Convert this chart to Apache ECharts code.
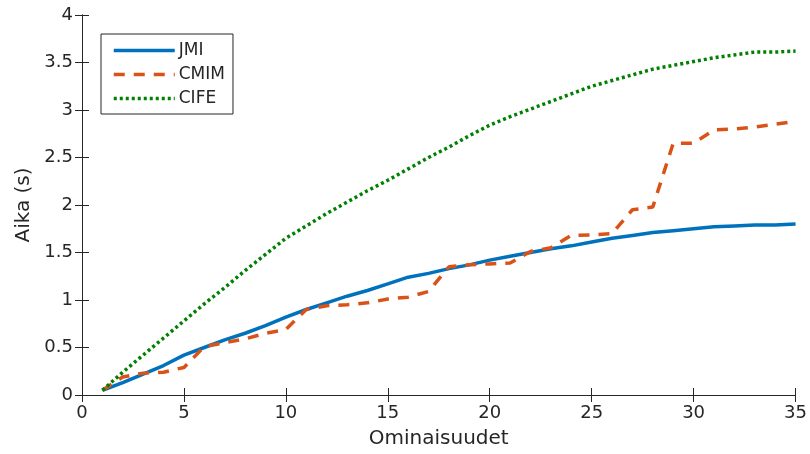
<!DOCTYPE html>
<html>
<head>
<meta charset="utf-8">
<script src="https://cdn.jsdelivr.net/npm/echarts@6/dist/echarts.min.js"></script>
<style>
  html, body { margin: 0; padding: 0; background: #fff; }
  #chart { width: 810px; height: 454px; }
</style>
</head>
<body>
<div id="chart"></div>
<script>
// ominaisuuksien määrä 1..35
const features = [1, 2, 3, 4, 5, 6, 7, 8, 9, 10, 11, 12, 13, 14, 15, 16, 17, 18,
  19, 20, 21, 22, 23, 24, 25, 26, 27, 28, 29, 30, 31, 32, 33, 34, 35];

const jmi = [0.05, 0.13, 0.22, 0.31, 0.42, 0.50, 0.58, 0.65, 0.73, 0.82, 0.90, 0.97,
  1.04, 1.10, 1.17, 1.24, 1.28, 1.33, 1.37, 1.42, 1.46, 1.50, 1.54, 1.57, 1.61,
  1.65, 1.68, 1.71, 1.73, 1.75, 1.77, 1.78, 1.79, 1.79, 1.80];

const cmim = [0.05, 0.19, 0.23, 0.24, 0.29, 0.51, 0.55, 0.59, 0.65, 0.69, 0.90, 0.94,
  0.95, 0.97, 1.01, 1.03, 1.09, 1.35, 1.37, 1.38, 1.39, 1.51, 1.55, 1.68, 1.685,
  1.70, 1.95, 1.98, 2.65, 2.65, 2.79, 2.80, 2.82, 2.85, 2.88];

const cife = [0.05, 0.24, 0.42, 0.60, 0.78, 0.96, 1.13, 1.31, 1.48, 1.65, 1.78, 1.91,
  2.03, 2.15, 2.26, 2.38, 2.50, 2.61, 2.73, 2.84, 2.93, 3.01, 3.09, 3.17, 3.25,
  3.31, 3.37, 3.43, 3.47, 3.51, 3.55, 3.58, 3.61, 3.61, 3.62];

const axisColor = '#262626';
const font = 'DejaVu Sans';

const chart = echarts.init(document.getElementById('chart'));

const pairs = (ys) => features.map((x, i) => [x, ys[i]]);

// reunat joka puolella kuten matlabissa
const boxAxis = {
  axisLine: { show: true, lineStyle: { color: axisColor, width: 1 } },
  axisTick: { show: true, inside: true, length: 7, lineStyle: { color: axisColor } },
  splitLine: { show: false },
};

chart.setOption({
  animation: false,
  grid: { left: 82, right: 13, top: 15, bottom: 59 },
  legend: {
    orient: 'vertical',
    left: 101,
    top: 34,
    padding: [8, 8, 7, 11],
    itemGap: 7,
    itemWidth: 61,
    itemHeight: 14,
    borderColor: axisColor,
    borderWidth: 1,
    backgroundColor: '#fff',
    itemStyle: { opacity: 0 },
    lineStyle: { width: 3.5 },
    textStyle: { fontFamily: font, fontSize: 17, color: axisColor, padding: [0, 0, 0, -1] },
    data: ['JMI', 'CMIM', 'CIFE'],
  },
  xAxis: [
    {
      type: 'value', min: 0, max: 35, interval: 5,
      name: 'Ominaisuudet', nameLocation: 'middle', nameGap: 34,
      nameTextStyle: { fontFamily: font, fontSize: 20, color: axisColor },
      axisLabel: { fontFamily: font, fontSize: 18, color: axisColor, margin: 9 },
      ...boxAxis,
    },
    {
      type: 'value', min: 0, max: 35, interval: 5, position: 'top',
      axisLabel: { show: false },
      ...boxAxis,
    },
  ],
  yAxis: [
    {
      type: 'value', min: 0, max: 4, interval: 0.5,
      name: 'Aika (s)', nameLocation: 'middle', nameGap: 44,
      nameTextStyle: { fontFamily: font, fontSize: 20, color: axisColor },
      axisLabel: { fontFamily: font, fontSize: 18, color: axisColor, margin: 9 },
      ...boxAxis,
    },
    {
      type: 'value', min: 0, max: 4, interval: 0.5, position: 'right',
      axisLabel: { show: false },
      ...boxAxis,
    },
  ],
  series: [
    {
      name: 'JMI', type: 'line', data: pairs(jmi),
      symbol: 'none', color: '#0072BD',
      lineStyle: { width: 3.5, color: '#0072BD' },
    },
    {
      name: 'CMIM', type: 'line', data: pairs(cmim),
      symbol: 'none', color: '#D95319',
      lineStyle: { width: 3.5, color: '#D95319', type: [11, 9] },
    },
    {
      name: 'CIFE', type: 'line', data: pairs(cife),
      symbol: 'none', color: '#008000',
      lineStyle: { width: 3.5, color: '#008000', type: [3, 3] },
    },
  ],
});
</script>
</body>
</html>
